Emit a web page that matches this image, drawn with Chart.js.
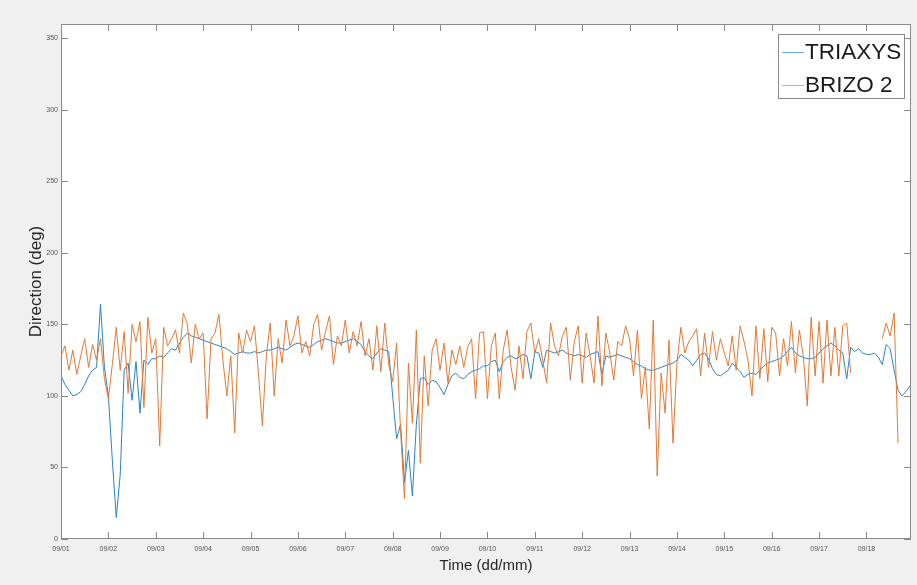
<!DOCTYPE html>
<html>
<head>
<meta charset="utf-8">
<script src="https://cdn.jsdelivr.net/npm/chart.js@4.4.1/dist/chart.umd.min.js"></script>
<style>
  html, body { margin: 0; padding: 0; background: #f0f0f0; }
  #wrap { width: 917px; height: 585px; }
</style>
</head>
<body>
<div id="wrap"><canvas id="c" width="917" height="585"></canvas></div>
<script>
// ---- data (2-hourly samples starting 09/01 00:00) ----
const dateLabels = ['09/01','09/02','09/03','09/04','09/05','09/06','09/07','09/08','09/09',
                    '09/10','09/11','09/12','09/13','09/14','09/15','09/16','09/17','09/18'];
const sampleHours = 2;
const seriesNames = ['TRIAXYS', 'BRIZO 2'];

const triaxys = [
  114,108,104,100,101,103,108,114,118,120,164,120,
  100,55,15,45,118,123,97,124,88,125,122,126,
  126,128,127,130,133,132,137,141,144,142,141,140,
  139,138,137,136,135,134,133,131,129,130,131,130,
  130,131,130,131,132,132,133,134,133,132,134,136,
  137,136,135,134,136,138,139,140,139,138,137,137,
  138,139,140,138,136,131,128,126,130,133,132,131,
  100,70,80,40,62,30,80,112,113,108,111,110,
  106,101,108,114,116,113,112,115,117,118,119,121,
  121,124,125,117,124,127,128,126,127,129,128,112,
  131,130,120,132,131,130,131,132,130,129,128,129,
  128,127,129,130,131,115,128,127,128,129,128,127,
  126,124,122,121,119,118,118,119,120,121,122,123,
  125,129,127,125,121,125,129,130,126,119,115,114,
  116,118,123,120,117,113,115,116,115,118,121,123,
  124,125,126,128,131,134,130,128,127,126,126,127,
  130,133,135,137,135,132,130,112,134,131,133,130,
  129,129,130,127,122,136,133,118,104,100,103,107
];

const brizo2 = [
  128,135,118,132,115,128,140,120,136,125,140,112,
  98,122,148,118,145,102,150,138,152,92,155,130,
  140,65,148,135,140,146,130,158,150,123,150,140,
  144,84,140,144,157,125,100,128,74,144,130,146,
  138,149,116,79,128,151,100,140,123,153,135,142,
  156,130,138,128,150,157,132,145,156,122,142,135,
  153,130,145,135,152,128,140,118,149,117,151,122,
  110,137,76,28,123,81,146,53,128,93,132,140,
  118,137,109,132,122,135,120,134,140,98,144,145,
  98,135,144,98,132,146,120,104,135,112,145,151,
  130,140,125,109,151,135,128,142,148,111,138,149,
  109,144,128,109,156,107,144,130,111,138,135,149,
  140,114,146,98,120,77,153,44,116,88,139,67,
  123,148,130,138,142,147,114,144,120,145,125,140,
  130,121,142,118,149,138,125,100,149,112,147,110,
  148,144,114,140,121,152,116,146,128,93,155,114,
  152,109,153,114,148,114,149,151,116,null,null,null,
  null,null,null,null,140,151,142,158,67
];

const seriesColors = ['#2a84c2', '#e27a36'];

const toPoints = arr => arr.map((v, i) => ({ x: i * sampleHours / 24, y: v }));

// ---- plugins ----
const backdrop = {
  id: 'backdrop',
  beforeDraw(chart) {
    const { ctx, chartArea: a } = chart;
    ctx.save();
    ctx.fillStyle = '#f0f0f0';
    ctx.fillRect(0, 0, chart.width, chart.height);
    ctx.fillStyle = '#ffffff';
    ctx.fillRect(a.left, a.top, a.right - a.left, a.bottom - a.top);
    ctx.restore();
  }
};

const frame = {
  id: 'frame',
  afterDatasetsDraw(chart) {
    const { ctx, chartArea: a, scales } = chart;
    const tl = 7;
    ctx.save();
    ctx.strokeStyle = '#8a8a8a';
    ctx.lineWidth = 1;
    ctx.beginPath();
    scales.x.ticks.forEach(t => {
      const px = Math.round(scales.x.getPixelForValue(t.value)) + 0.5;
      ctx.moveTo(px, a.bottom); ctx.lineTo(px, a.bottom - tl);
      ctx.moveTo(px, a.top); ctx.lineTo(px, a.top + tl);
    });
    scales.y.ticks.forEach(t => {
      const py = Math.round(scales.y.getPixelForValue(t.value)) + 0.5;
      ctx.moveTo(a.left, py); ctx.lineTo(a.left + tl, py);
      ctx.moveTo(a.right, py); ctx.lineTo(a.right - tl, py);
    });
    ctx.stroke();
    ctx.strokeRect(Math.round(a.left) + 0.5, Math.round(a.top) + 0.5,
                   Math.round(a.right - a.left) - 1, Math.round(a.bottom - a.top) - 1);
    ctx.restore();
  }
};

const boxLegend = {
  id: 'boxLegend',
  afterDraw(chart) {
    const { ctx, chartArea: a } = chart;
    const right = a.right - 6, top = a.top + 10, w = 127, h = 65;
    const left = right - w;
    ctx.save();
    ctx.fillStyle = '#ffffff';
    ctx.fillRect(left, top, w, h);
    ctx.strokeStyle = '#8a8a8a';
    ctx.lineWidth = 1;
    ctx.strokeRect(left + 0.5, top + 0.5, w - 1, h - 1);
    ctx.font = '22.5px "Liberation Sans", Arial, sans-serif';
    ctx.textBaseline = 'middle';
    ctx.textAlign = 'left';
    chart.data.datasets.forEach((ds, i) => {
      const cy = top + 18 + i * 33;
      ctx.strokeStyle = ds.borderColor;
      ctx.globalAlpha = 0.7;
      ctx.beginPath();
      ctx.moveTo(left + 4, cy + 0.5); ctx.lineTo(left + 26, cy + 0.5);
      ctx.stroke();
      ctx.globalAlpha = 1;
      ctx.fillStyle = '#1a1a1a';
      ctx.fillText(ds.label, left + 27, cy + 1);
    });
    ctx.restore();
  }
};

new Chart(document.getElementById('c'), {
  type: 'line',
  data: {
    datasets: [
      { label: seriesNames[0], data: toPoints(triaxys), borderColor: seriesColors[0], order: 2 },
      { label: seriesNames[1], data: toPoints(brizo2), borderColor: seriesColors[1], order: 1 }
    ]
  },
  options: {
    responsive: false,
    animation: false,
    layout: { padding: { left: 0, top: 24, right: 6, bottom: 0 } },
    elements: { point: { radius: 0 }, line: { tension: 0, borderWidth: 1, fill: false } },
    plugins: { legend: { display: false }, tooltip: { enabled: false } },
    scales: {
      x: {
        type: 'linear', min: 0, max: 17.94,
        afterFit(s) { s.height = 46; },
        grid: { display: false, drawTicks: false },
        border: { display: false },
        ticks: {
          stepSize: 1, includeBounds: false, autoSkip: false, maxRotation: 0, minRotation: 0,
          padding: 6, color: '#555555',
          font: { family: '"Liberation Sans", Arial, sans-serif', size: 7 },
          callback: v => dateLabels[Math.round(v)]
        },
        title: {
          display: true, text: 'Time (dd/mm)', color: '#262626',
          font: { family: '"Liberation Sans", Arial, sans-serif', size: 15 },
          padding: { top: 0, bottom: 10 }
        }
      },
      y: {
        min: 0, max: 360,
        afterFit(s) { s.width = 61; },
        grid: { display: false, drawTicks: false },
        border: { display: false },
        ticks: {
          stepSize: 50, includeBounds: false, padding: 3, color: '#555555',
          font: { family: '"Liberation Sans", Arial, sans-serif', size: 7 }
        },
        title: {
          display: true, text: 'Direction (deg)', color: '#262626',
          font: { family: '"Liberation Sans", Arial, sans-serif', size: 17 },
          padding: { top: 26, bottom: 0 }
        }
      }
    }
  },
  plugins: [backdrop, frame, boxLegend]
});
</script>
</body>
</html>
